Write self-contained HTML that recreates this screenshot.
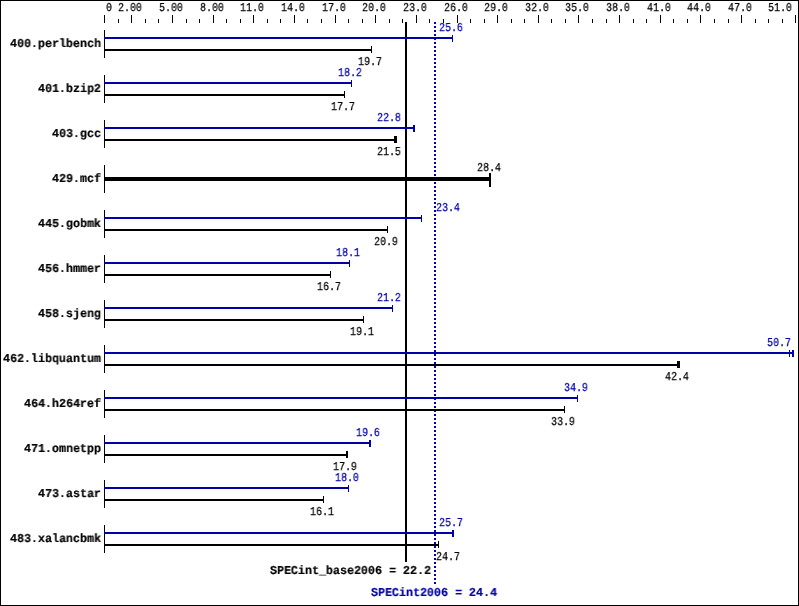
<!DOCTYPE html>
<html><head><meta charset="utf-8"><style>
html,body{margin:0;padding:0;background:#fff;width:799px;height:606px;overflow:hidden}
svg{position:absolute;left:0;top:0}
.r,.b{position:absolute;white-space:pre;line-height:10px;color:#000}
.r,.b{font-family:"Liberation Mono",monospace;font-size:12px;text-rendering:geometricPrecision;transform-origin:0 0;will-change:transform}
.r{transform:scaleX(0.83333);-webkit-text-stroke:0.25px}
.b{font-weight:bold;transform:scaleX(0.97222);-webkit-text-stroke:0.2px}
</style></head><body>
<svg width="799" height="606" shape-rendering="crispEdges">
<rect x="0" y="0" width="799" height="1" fill="#000"/>
<rect x="0" y="605" width="799" height="1" fill="#000"/>
<rect x="0" y="0" width="1" height="606" fill="#000"/>
<rect x="798" y="0" width="1" height="606" fill="#000"/>
<rect x="104" y="15" width="1" height="8" fill="#000"/>
<rect x="118" y="19" width="1" height="4" fill="#000"/>
<rect x="131" y="15" width="1" height="8" fill="#000"/>
<rect x="145" y="19" width="1" height="4" fill="#000"/>
<rect x="158" y="19" width="1" height="4" fill="#000"/>
<rect x="172" y="15" width="1" height="8" fill="#000"/>
<rect x="186" y="19" width="1" height="4" fill="#000"/>
<rect x="199" y="19" width="1" height="4" fill="#000"/>
<rect x="213" y="15" width="1" height="8" fill="#000"/>
<rect x="226" y="19" width="1" height="4" fill="#000"/>
<rect x="240" y="19" width="1" height="4" fill="#000"/>
<rect x="253" y="15" width="1" height="8" fill="#000"/>
<rect x="267" y="19" width="1" height="4" fill="#000"/>
<rect x="280" y="19" width="1" height="4" fill="#000"/>
<rect x="294" y="15" width="1" height="8" fill="#000"/>
<rect x="307" y="19" width="1" height="4" fill="#000"/>
<rect x="321" y="19" width="1" height="4" fill="#000"/>
<rect x="335" y="15" width="1" height="8" fill="#000"/>
<rect x="348" y="19" width="1" height="4" fill="#000"/>
<rect x="362" y="19" width="1" height="4" fill="#000"/>
<rect x="375" y="15" width="1" height="8" fill="#000"/>
<rect x="389" y="19" width="1" height="4" fill="#000"/>
<rect x="402" y="19" width="1" height="4" fill="#000"/>
<rect x="416" y="15" width="1" height="8" fill="#000"/>
<rect x="429" y="19" width="1" height="4" fill="#000"/>
<rect x="443" y="19" width="1" height="4" fill="#000"/>
<rect x="457" y="15" width="1" height="8" fill="#000"/>
<rect x="470" y="19" width="1" height="4" fill="#000"/>
<rect x="484" y="19" width="1" height="4" fill="#000"/>
<rect x="497" y="15" width="1" height="8" fill="#000"/>
<rect x="511" y="19" width="1" height="4" fill="#000"/>
<rect x="524" y="19" width="1" height="4" fill="#000"/>
<rect x="538" y="15" width="1" height="8" fill="#000"/>
<rect x="551" y="19" width="1" height="4" fill="#000"/>
<rect x="565" y="19" width="1" height="4" fill="#000"/>
<rect x="578" y="15" width="1" height="8" fill="#000"/>
<rect x="592" y="19" width="1" height="4" fill="#000"/>
<rect x="606" y="19" width="1" height="4" fill="#000"/>
<rect x="619" y="15" width="1" height="8" fill="#000"/>
<rect x="633" y="19" width="1" height="4" fill="#000"/>
<rect x="646" y="19" width="1" height="4" fill="#000"/>
<rect x="660" y="15" width="1" height="8" fill="#000"/>
<rect x="673" y="19" width="1" height="4" fill="#000"/>
<rect x="687" y="19" width="1" height="4" fill="#000"/>
<rect x="700" y="15" width="1" height="8" fill="#000"/>
<rect x="714" y="19" width="1" height="4" fill="#000"/>
<rect x="728" y="19" width="1" height="4" fill="#000"/>
<rect x="741" y="15" width="1" height="8" fill="#000"/>
<rect x="755" y="19" width="1" height="4" fill="#000"/>
<rect x="768" y="19" width="1" height="4" fill="#000"/>
<rect x="782" y="19" width="1" height="4" fill="#000"/>
<rect x="795" y="15" width="1" height="8" fill="#000"/>
<rect x="405" y="22" width="2" height="540" fill="#000"/>
<rect x="434" y="22" width="2" height="2" fill="#0000a8"/>
<rect x="434" y="26" width="2" height="2" fill="#0000a8"/>
<rect x="434" y="30" width="2" height="2" fill="#0000a8"/>
<rect x="434" y="34" width="2" height="2" fill="#0000a8"/>
<rect x="434" y="38" width="2" height="2" fill="#0000a8"/>
<rect x="434" y="42" width="2" height="2" fill="#0000a8"/>
<rect x="434" y="46" width="2" height="2" fill="#0000a8"/>
<rect x="434" y="50" width="2" height="2" fill="#0000a8"/>
<rect x="434" y="54" width="2" height="2" fill="#0000a8"/>
<rect x="434" y="58" width="2" height="2" fill="#0000a8"/>
<rect x="434" y="62" width="2" height="2" fill="#0000a8"/>
<rect x="434" y="66" width="2" height="2" fill="#0000a8"/>
<rect x="434" y="70" width="2" height="2" fill="#0000a8"/>
<rect x="434" y="74" width="2" height="2" fill="#0000a8"/>
<rect x="434" y="78" width="2" height="2" fill="#0000a8"/>
<rect x="434" y="82" width="2" height="2" fill="#0000a8"/>
<rect x="434" y="86" width="2" height="2" fill="#0000a8"/>
<rect x="434" y="90" width="2" height="2" fill="#0000a8"/>
<rect x="434" y="94" width="2" height="2" fill="#0000a8"/>
<rect x="434" y="98" width="2" height="2" fill="#0000a8"/>
<rect x="434" y="102" width="2" height="2" fill="#0000a8"/>
<rect x="434" y="106" width="2" height="2" fill="#0000a8"/>
<rect x="434" y="110" width="2" height="2" fill="#0000a8"/>
<rect x="434" y="114" width="2" height="2" fill="#0000a8"/>
<rect x="434" y="118" width="2" height="2" fill="#0000a8"/>
<rect x="434" y="122" width="2" height="2" fill="#0000a8"/>
<rect x="434" y="126" width="2" height="2" fill="#0000a8"/>
<rect x="434" y="130" width="2" height="2" fill="#0000a8"/>
<rect x="434" y="134" width="2" height="2" fill="#0000a8"/>
<rect x="434" y="138" width="2" height="2" fill="#0000a8"/>
<rect x="434" y="142" width="2" height="2" fill="#0000a8"/>
<rect x="434" y="146" width="2" height="2" fill="#0000a8"/>
<rect x="434" y="150" width="2" height="2" fill="#0000a8"/>
<rect x="434" y="154" width="2" height="2" fill="#0000a8"/>
<rect x="434" y="158" width="2" height="2" fill="#0000a8"/>
<rect x="434" y="162" width="2" height="2" fill="#0000a8"/>
<rect x="434" y="166" width="2" height="2" fill="#0000a8"/>
<rect x="434" y="170" width="2" height="2" fill="#0000a8"/>
<rect x="434" y="174" width="2" height="2" fill="#0000a8"/>
<rect x="434" y="178" width="2" height="2" fill="#0000a8"/>
<rect x="434" y="182" width="2" height="2" fill="#0000a8"/>
<rect x="434" y="186" width="2" height="2" fill="#0000a8"/>
<rect x="434" y="190" width="2" height="2" fill="#0000a8"/>
<rect x="434" y="194" width="2" height="2" fill="#0000a8"/>
<rect x="434" y="198" width="2" height="2" fill="#0000a8"/>
<rect x="434" y="202" width="2" height="2" fill="#0000a8"/>
<rect x="434" y="206" width="2" height="2" fill="#0000a8"/>
<rect x="434" y="210" width="2" height="2" fill="#0000a8"/>
<rect x="434" y="214" width="2" height="2" fill="#0000a8"/>
<rect x="434" y="218" width="2" height="2" fill="#0000a8"/>
<rect x="434" y="222" width="2" height="2" fill="#0000a8"/>
<rect x="434" y="226" width="2" height="2" fill="#0000a8"/>
<rect x="434" y="230" width="2" height="2" fill="#0000a8"/>
<rect x="434" y="234" width="2" height="2" fill="#0000a8"/>
<rect x="434" y="238" width="2" height="2" fill="#0000a8"/>
<rect x="434" y="242" width="2" height="2" fill="#0000a8"/>
<rect x="434" y="246" width="2" height="2" fill="#0000a8"/>
<rect x="434" y="250" width="2" height="2" fill="#0000a8"/>
<rect x="434" y="254" width="2" height="2" fill="#0000a8"/>
<rect x="434" y="258" width="2" height="2" fill="#0000a8"/>
<rect x="434" y="262" width="2" height="2" fill="#0000a8"/>
<rect x="434" y="266" width="2" height="2" fill="#0000a8"/>
<rect x="434" y="270" width="2" height="2" fill="#0000a8"/>
<rect x="434" y="274" width="2" height="2" fill="#0000a8"/>
<rect x="434" y="278" width="2" height="2" fill="#0000a8"/>
<rect x="434" y="282" width="2" height="2" fill="#0000a8"/>
<rect x="434" y="286" width="2" height="2" fill="#0000a8"/>
<rect x="434" y="290" width="2" height="2" fill="#0000a8"/>
<rect x="434" y="294" width="2" height="2" fill="#0000a8"/>
<rect x="434" y="298" width="2" height="2" fill="#0000a8"/>
<rect x="434" y="302" width="2" height="2" fill="#0000a8"/>
<rect x="434" y="306" width="2" height="2" fill="#0000a8"/>
<rect x="434" y="310" width="2" height="2" fill="#0000a8"/>
<rect x="434" y="314" width="2" height="2" fill="#0000a8"/>
<rect x="434" y="318" width="2" height="2" fill="#0000a8"/>
<rect x="434" y="322" width="2" height="2" fill="#0000a8"/>
<rect x="434" y="326" width="2" height="2" fill="#0000a8"/>
<rect x="434" y="330" width="2" height="2" fill="#0000a8"/>
<rect x="434" y="334" width="2" height="2" fill="#0000a8"/>
<rect x="434" y="338" width="2" height="2" fill="#0000a8"/>
<rect x="434" y="342" width="2" height="2" fill="#0000a8"/>
<rect x="434" y="346" width="2" height="2" fill="#0000a8"/>
<rect x="434" y="350" width="2" height="2" fill="#0000a8"/>
<rect x="434" y="354" width="2" height="2" fill="#0000a8"/>
<rect x="434" y="358" width="2" height="2" fill="#0000a8"/>
<rect x="434" y="362" width="2" height="2" fill="#0000a8"/>
<rect x="434" y="366" width="2" height="2" fill="#0000a8"/>
<rect x="434" y="370" width="2" height="2" fill="#0000a8"/>
<rect x="434" y="374" width="2" height="2" fill="#0000a8"/>
<rect x="434" y="378" width="2" height="2" fill="#0000a8"/>
<rect x="434" y="382" width="2" height="2" fill="#0000a8"/>
<rect x="434" y="386" width="2" height="2" fill="#0000a8"/>
<rect x="434" y="390" width="2" height="2" fill="#0000a8"/>
<rect x="434" y="394" width="2" height="2" fill="#0000a8"/>
<rect x="434" y="398" width="2" height="2" fill="#0000a8"/>
<rect x="434" y="402" width="2" height="2" fill="#0000a8"/>
<rect x="434" y="406" width="2" height="2" fill="#0000a8"/>
<rect x="434" y="410" width="2" height="2" fill="#0000a8"/>
<rect x="434" y="414" width="2" height="2" fill="#0000a8"/>
<rect x="434" y="418" width="2" height="2" fill="#0000a8"/>
<rect x="434" y="422" width="2" height="2" fill="#0000a8"/>
<rect x="434" y="426" width="2" height="2" fill="#0000a8"/>
<rect x="434" y="430" width="2" height="2" fill="#0000a8"/>
<rect x="434" y="434" width="2" height="2" fill="#0000a8"/>
<rect x="434" y="438" width="2" height="2" fill="#0000a8"/>
<rect x="434" y="442" width="2" height="2" fill="#0000a8"/>
<rect x="434" y="446" width="2" height="2" fill="#0000a8"/>
<rect x="434" y="450" width="2" height="2" fill="#0000a8"/>
<rect x="434" y="454" width="2" height="2" fill="#0000a8"/>
<rect x="434" y="458" width="2" height="2" fill="#0000a8"/>
<rect x="434" y="462" width="2" height="2" fill="#0000a8"/>
<rect x="434" y="466" width="2" height="2" fill="#0000a8"/>
<rect x="434" y="470" width="2" height="2" fill="#0000a8"/>
<rect x="434" y="474" width="2" height="2" fill="#0000a8"/>
<rect x="434" y="478" width="2" height="2" fill="#0000a8"/>
<rect x="434" y="482" width="2" height="2" fill="#0000a8"/>
<rect x="434" y="486" width="2" height="2" fill="#0000a8"/>
<rect x="434" y="490" width="2" height="2" fill="#0000a8"/>
<rect x="434" y="494" width="2" height="2" fill="#0000a8"/>
<rect x="434" y="498" width="2" height="2" fill="#0000a8"/>
<rect x="434" y="502" width="2" height="2" fill="#0000a8"/>
<rect x="434" y="506" width="2" height="2" fill="#0000a8"/>
<rect x="434" y="510" width="2" height="2" fill="#0000a8"/>
<rect x="434" y="514" width="2" height="2" fill="#0000a8"/>
<rect x="434" y="518" width="2" height="2" fill="#0000a8"/>
<rect x="434" y="522" width="2" height="2" fill="#0000a8"/>
<rect x="434" y="526" width="2" height="2" fill="#0000a8"/>
<rect x="434" y="530" width="2" height="2" fill="#0000a8"/>
<rect x="434" y="534" width="2" height="2" fill="#0000a8"/>
<rect x="434" y="538" width="2" height="2" fill="#0000a8"/>
<rect x="434" y="542" width="2" height="2" fill="#0000a8"/>
<rect x="434" y="546" width="2" height="2" fill="#0000a8"/>
<rect x="434" y="550" width="2" height="2" fill="#0000a8"/>
<rect x="434" y="554" width="2" height="2" fill="#0000a8"/>
<rect x="434" y="558" width="2" height="2" fill="#0000a8"/>
<rect x="434" y="562" width="2" height="2" fill="#0000a8"/>
<rect x="434" y="566" width="2" height="2" fill="#0000a8"/>
<rect x="434" y="570" width="2" height="2" fill="#0000a8"/>
<rect x="434" y="574" width="2" height="2" fill="#0000a8"/>
<rect x="434" y="578" width="2" height="2" fill="#0000a8"/>
<rect x="434" y="582" width="2" height="2" fill="#0000a8"/>
<rect x="104" y="30" width="1" height="28" fill="#000"/>
<rect x="104" y="37" width="349" height="2" fill="#0000a8"/>
<rect x="452" y="35" width="1" height="7" fill="#0000a8"/>
<rect x="104" y="49" width="268" height="2" fill="#000"/>
<rect x="371" y="46" width="1" height="7" fill="#000"/>
<rect x="104" y="75" width="1" height="28" fill="#000"/>
<rect x="104" y="82" width="248" height="2" fill="#0000a8"/>
<rect x="351" y="80" width="1" height="7" fill="#0000a8"/>
<rect x="104" y="94" width="241" height="2" fill="#000"/>
<rect x="344" y="91" width="1" height="7" fill="#000"/>
<rect x="104" y="120" width="1" height="28" fill="#000"/>
<rect x="104" y="127" width="311" height="2" fill="#0000a8"/>
<rect x="413" y="125" width="2" height="7" fill="#0000a8"/>
<rect x="104" y="139" width="293" height="2" fill="#000"/>
<rect x="394" y="136" width="3" height="7" fill="#000"/>
<rect x="104" y="165" width="1" height="28" fill="#000"/>
<rect x="104" y="177" width="387" height="4" fill="#000"/>
<rect x="489" y="173" width="2" height="14" fill="#000"/>
<rect x="104" y="210" width="1" height="28" fill="#000"/>
<rect x="104" y="217" width="318" height="2" fill="#0000a8"/>
<rect x="421" y="215" width="1" height="7" fill="#0000a8"/>
<rect x="104" y="229" width="284" height="2" fill="#000"/>
<rect x="387" y="226" width="1" height="7" fill="#000"/>
<rect x="104" y="255" width="1" height="28" fill="#000"/>
<rect x="104" y="262" width="246" height="2" fill="#0000a8"/>
<rect x="349" y="260" width="1" height="7" fill="#0000a8"/>
<rect x="104" y="274" width="227" height="2" fill="#000"/>
<rect x="330" y="271" width="1" height="7" fill="#000"/>
<rect x="104" y="300" width="1" height="28" fill="#000"/>
<rect x="104" y="307" width="289" height="2" fill="#0000a8"/>
<rect x="392" y="305" width="1" height="7" fill="#0000a8"/>
<rect x="104" y="319" width="260" height="2" fill="#000"/>
<rect x="363" y="316" width="1" height="7" fill="#000"/>
<rect x="104" y="345" width="1" height="28" fill="#000"/>
<rect x="104" y="352" width="690" height="2" fill="#0000a8"/>
<rect x="789" y="350" width="1" height="7" fill="#0000a8"/>
<rect x="792" y="350" width="2" height="7" fill="#0000a8"/>
<rect x="104" y="364" width="576" height="2" fill="#000"/>
<rect x="677" y="361" width="3" height="7" fill="#000"/>
<rect x="104" y="390" width="1" height="28" fill="#000"/>
<rect x="104" y="397" width="474" height="2" fill="#0000a8"/>
<rect x="577" y="395" width="1" height="7" fill="#0000a8"/>
<rect x="104" y="409" width="461" height="2" fill="#000"/>
<rect x="564" y="406" width="1" height="7" fill="#000"/>
<rect x="104" y="435" width="1" height="28" fill="#000"/>
<rect x="104" y="442" width="267" height="2" fill="#0000a8"/>
<rect x="369" y="440" width="2" height="7" fill="#0000a8"/>
<rect x="104" y="454" width="244" height="2" fill="#000"/>
<rect x="346" y="451" width="2" height="7" fill="#000"/>
<rect x="104" y="480" width="1" height="28" fill="#000"/>
<rect x="104" y="487" width="245" height="2" fill="#0000a8"/>
<rect x="348" y="485" width="1" height="7" fill="#0000a8"/>
<rect x="104" y="499" width="220" height="2" fill="#000"/>
<rect x="323" y="496" width="1" height="7" fill="#000"/>
<rect x="104" y="525" width="1" height="28" fill="#000"/>
<rect x="104" y="532" width="350" height="2" fill="#0000a8"/>
<rect x="452" y="530" width="2" height="7" fill="#0000a8"/>
<rect x="104" y="544" width="335" height="2" fill="#000"/>
<rect x="438" y="541" width="1" height="7" fill="#000"/>
</svg>
<div class="r" style="left:106px;top:3px">0</div>
<div class="r" style="left:118px;top:3px">2.00</div>
<div class="r" style="left:159px;top:3px">5.00</div>
<div class="r" style="left:200px;top:3px">8.00</div>
<div class="r" style="left:240px;top:3px">11.0</div>
<div class="r" style="left:281px;top:3px">14.0</div>
<div class="r" style="left:322px;top:3px">17.0</div>
<div class="r" style="left:362px;top:3px">20.0</div>
<div class="r" style="left:403px;top:3px">23.0</div>
<div class="r" style="left:444px;top:3px">26.0</div>
<div class="r" style="left:484px;top:3px">29.0</div>
<div class="r" style="left:525px;top:3px">32.0</div>
<div class="r" style="left:565px;top:3px">35.0</div>
<div class="r" style="left:606px;top:3px">38.0</div>
<div class="r" style="left:647px;top:3px">41.0</div>
<div class="r" style="left:687px;top:3px">44.0</div>
<div class="r" style="left:728px;top:3px">47.0</div>
<div class="r" style="left:768px;top:3px">51.0</div>
<div class="b" style="left:10px;top:39px">400.perlbench</div>
<div class="r" style="left:439px;top:23px;color:#0000a8">25.6</div>
<div class="r" style="left:358px;top:57px">19.7</div>
<div class="b" style="left:38px;top:84px">401.bzip2</div>
<div class="r" style="left:338px;top:68px;color:#0000a8">18.2</div>
<div class="r" style="left:331px;top:102px">17.7</div>
<div class="b" style="left:52px;top:129px">403.gcc</div>
<div class="r" style="left:377px;top:113px;color:#0000a8">22.8</div>
<div class="r" style="left:377px;top:147px">21.5</div>
<div class="b" style="left:52px;top:174px">429.mcf</div>
<div class="r" style="left:477px;top:163px">28.4</div>
<div class="b" style="left:38px;top:219px">445.gobmk</div>
<div class="r" style="left:436px;top:203px;color:#0000a8">23.4</div>
<div class="r" style="left:374px;top:237px">20.9</div>
<div class="b" style="left:38px;top:264px">456.hmmer</div>
<div class="r" style="left:336px;top:248px;color:#0000a8">18.1</div>
<div class="r" style="left:317px;top:282px">16.7</div>
<div class="b" style="left:38px;top:309px">458.sjeng</div>
<div class="r" style="left:377px;top:293px;color:#0000a8">21.2</div>
<div class="r" style="left:350px;top:327px">19.1</div>
<div class="b" style="left:3px;top:354px">462.libquantum</div>
<div class="r" style="left:767px;top:338px;color:#0000a8">50.7</div>
<div class="r" style="left:665px;top:372px">42.4</div>
<div class="b" style="left:24px;top:399px">464.h264ref</div>
<div class="r" style="left:564px;top:383px;color:#0000a8">34.9</div>
<div class="r" style="left:551px;top:417px">33.9</div>
<div class="b" style="left:24px;top:444px">471.omnetpp</div>
<div class="r" style="left:356px;top:428px;color:#0000a8">19.6</div>
<div class="r" style="left:333px;top:462px">17.9</div>
<div class="b" style="left:38px;top:489px">473.astar</div>
<div class="r" style="left:335px;top:473px;color:#0000a8">18.0</div>
<div class="r" style="left:310px;top:507px">16.1</div>
<div class="b" style="left:10px;top:534px">483.xalancbmk</div>
<div class="r" style="left:439px;top:518px;color:#0000a8">25.7</div>
<div class="r" style="left:436px;top:552px">24.7</div>
<div class="b" style="left:270px;top:566px">SPECint_base2006 = 22.2</div>
<div class="b" style="left:371px;top:588px;color:#0000a8">SPECint2006 = 24.4</div>
</body></html>
